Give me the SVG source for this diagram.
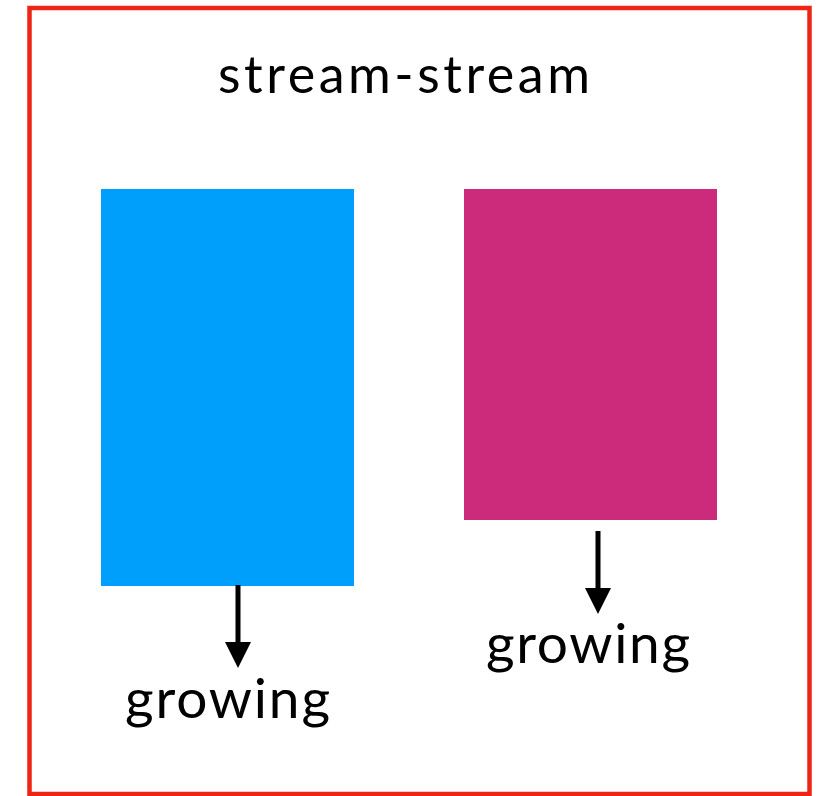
<svg xmlns="http://www.w3.org/2000/svg" width="827" height="796" viewBox="0 0 827 796">
<style>
.lbl{font-family:Lato,"Open Sans","Liberation Sans",sans-serif;fill:#000;}
.shaft{stroke:#000;stroke-width:5;fill:none;}
</style>
<defs>
<marker id="ah" markerUnits="userSpaceOnUse" markerWidth="26" markerHeight="26" refX="0" refY="13" orient="auto" viewBox="0 0 26 26">
<path d="M0,0 L26,13 L0,26 Z" fill="#000"/>
</marker>
</defs>
<rect x="0" y="0" width="827" height="796" fill="#fff"/>
<rect x="29.5" y="8" width="780" height="786" fill="#fff" stroke="#ee2415" stroke-width="4.5"/>
<text class="lbl" x="218" y="93" font-size="52" textLength="372" lengthAdjust="spacing">stream-stream</text>
<g id="left-stream">
<rect x="101" y="189" width="253" height="397" fill="#009ffc"/>
<text class="lbl" x="125" y="718" font-size="55" textLength="205" lengthAdjust="spacing">growing</text>
</g>
<g id="right-stream">
<rect x="464" y="189" width="253" height="331" fill="#cb2b7a"/>
<text class="lbl" x="486" y="663" font-size="55" textLength="204" lengthAdjust="spacing">growing</text>
</g>
<g id="connectors">
<line class="shaft" x1="238" y1="585" x2="238" y2="642" marker-end="url(#ah)"/>
<line class="shaft" x1="598" y1="531" x2="598" y2="588" marker-end="url(#ah)"/>
</g>
</svg>
